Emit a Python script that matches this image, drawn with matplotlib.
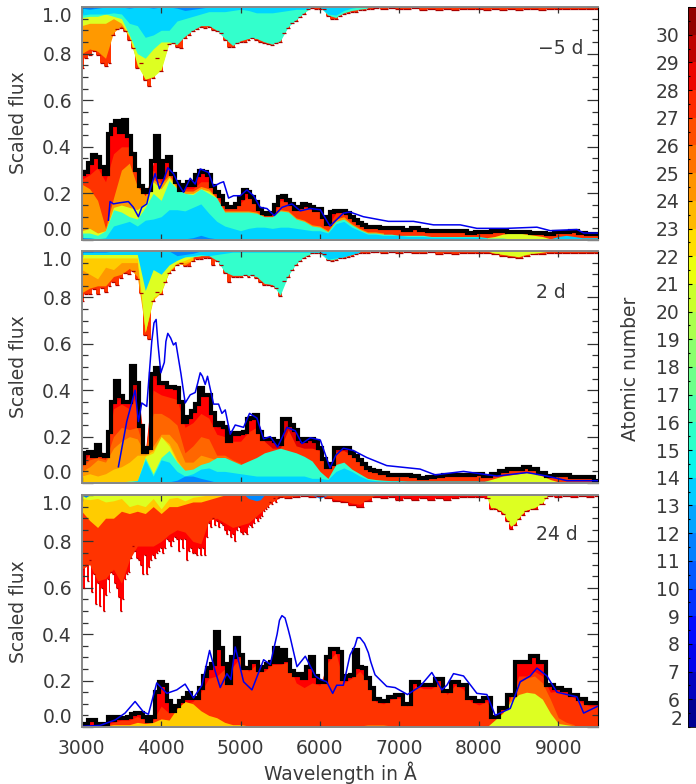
import numpy as np
import matplotlib
matplotlib.use('Agg')
import matplotlib.pyplot as plt
from matplotlib.colors import ListedColormap
from matplotlib.ticker import MultipleLocator

plt.rcParams['font.family'] = ['DejaVu Sans']

# wavelength grids
w_flux = np.concatenate([np.arange(3000, 6750, 50), np.arange(6800, 9600, 100)])
w100 = np.arange(3000, 9600, 100)
w_edge3 = np.concatenate([np.arange(3000, 5525, 25), np.arange(5600, 8200, 100),
                          np.arange(8150, 8650, 50), [8700, 8800, 8850, 8900],
                          np.arange(9000, 9600, 100)])

# colours of the element groups
c_dark = '#dd0000'
c_red = '#ff0000'
c_redor = '#ff3300'
c_or1 = '#ff6600'
c_or2 = '#ff9900'
c_yel = '#ffcc00'
c_lime = '#ddff22'
c_teal = '#33ffcc'
c_cyan = '#00d4ff'
c_blue = '#0088ff'
c_text = '#3a3a3a'

# ---------- panel 1, -5 d
p1_flux = [.285, .29, .33, .365, .355, .315, .285, .455, .495, .51, .465, .515, .445, .37, .30, .23, .205, .215, .34, .445,
           .27, .34, .355, .285, .25, .215, .235, .25, .235, .28, .295, .29, .28, .23, .205, .19, .155, .14, .14, .155,
           .18, .215, .205, .185, .165, .135, .115, .11, .115, .15, .185, .19, .17, .155, .135, .14, .155, .15, .14, .13,
           .135, .10, .07, .12, .125, .125, .125, .115, .10, .085, .075, .065, .055, .055, .055,
           .05, .05, .05, .045, .05, .045, .04, .04, .04, .04, .04, .03, .035, .035, .04, .04, .035, .035, .035, .03,
           .03, .025, .035, .035, .04, .03, .025, .025]
p1_blue_w = [3336, 3357, 3399, 3483, 3588, 3651, 3714, 3756, 3819, 3861, 3924, 3979, 4029, 4084, 4155, 4218, 4282, 4366,
             4429, 4492, 4597, 4660, 4744, 4786, 4849, 4912, 4996, 5080, 5164, 5248, 5332, 5424, 5521, 5647, 5752, 5878,
             6004, 6126, 6294, 6378, 6546, 6861, 7176, 7429, 7765, 7975, 8353, 8731, 8899, 9235, 9319, 9500]
p1_blue = [.085, .165, .155, .16, .165, .14, .10, .14, .155, .215, .285, .22, .255, .31, .285, .24, .205, .265,
           .24, .305, .29, .23, .245, .25, .18, .19, .19, .215, .19, .14, .135, .105, .14, .155, .125, .135,
           .13, .06, .115, .12, .10, .08, .08, .065, .065, .05, .05, .055, .04, .045, .03, .03]
p1_redor = [.26, .28, .31, .25, .37, .40, .40, .27, .19, .30, .25, .31, .24, .22, .22, .25, .25, .19, .14, .135, .16, .19,
            .15, .105, .105, .17, .16, .125, .14, .13, .125, .06, .115, .12, .09, .065, .05, .05, .045, .045, .045, .04,
            .045, .04, .035, .035, .035, .035, .035, .025, .03, .03, .035, .035, .03, .03, .03, .025, .025, .02, .03,
            .03, .035, .025, .02, .02]
p1_orange = [.24, .22, .17, .05, .18, .30, .33, .23, .19, .26, .24, .28, .23, .21, .21, .23, .22, .18, .125, .125, .125,
             .125, .12, .10, .10, .13, .125, .095, .085, .065, .06, .04, .09, .10, .07, .05, .035, .035, .03]
p1_lime = [.04, .05, .03, .04, .14, .15, .14, .13, .16, .25, .22, .27, .22, .20, .20, .22, .21, .18]
p1_lime2_w = [8100, 8200, 8300, 8400, 8500, 8600, 8700, 8800, 8900]
p1_lime2 = [.01, .015, .025, .03, .03, .025, .02, .015, .005]
p1_teal = [.03, .03, .02, .04, .13, .12, .10, .09, .14, .20, .17, .255, .22, .20, .195, .22, .20, .18, .12, .12, .12, .12,
           .115, .10, .10, .125, .12, .09, .08, .06, .055, .035, .08, .09, .065, .045, .03, .03, .025, .025, .02, .02,
           .02, .02, .015, .015, .015, .015, .015, .015, .015, .01]
p1_cyan = [.01, .01, .005, .01, .06, .07, .08, .06, .085, .09, .10, .13, .13, .125, .14, .155, .115, .08, .06, .05, .04,
           .05, .055, .055, .05, .055, .055, .05, .045, .04, .04, .03, .07, .08, .055, .04, .025, .025, .02, .02, .02,
           .015, .015, .015, .012, .012, .012, .012, .012, .012, .012, .008, .008, .008, .005, .005, .005, .005, .005,
           .005, .015, .02, .015, .01, .01, .01]
p1_blue_fill = [.01, .008, .005, .005, .005, .005, .005, .005, .005, .005, .005, .005, .005, .005, .01, .02, .01, .005]
p1_edge = [.74, .78, .795, .81, .795, .76, .745, .76, .88, .905, .91, .895, .86, .825, .74, .76, .685, .66, .695, .78,
           .725, .815, .84, .845, .83, .825, .865, .88, .895, .905, .915, .91, .915, .90, .895, .89, .86, .83, .83, .845,
           .85, .85, .86, .865, .86, .85, .845, .84, .835, .845, .85, .89, .91, .93, .94, .955, .97, .99, .995,
           .99, .99, .99, .96, .95, .95, .96, .97, .975, .98, .98, .985, .985, .99, .99, .995,
           .99, .995, .99, .99, .995, .985, .99, .985, .99, .985, .99, .99, .99, .985, .99, .985, .99, .985, .99, .99,
           .985, .99, .99, .99, .99, .99, .99, .99]
p1a_orange = [.80, .82, .81, .78, .89, .92, .87, .76, .69, .71, .74, .85, .84]
p1a_lime = [.92, .93, .93, .93, .95, .93, .875, .75, .69, .70, .73, .845, .84]
p1a_teal = [.955, .96, .96, .97, .96, .95, .88, .80, .78, .82, .85, .85, .84, .875, .90, .92, .92, .90, .865, .835, .855,
            .865, .865, .85, .84, .855, .915, .945, .975, 1.0, 1.0, .965, .955, .975, .985, .99, .995]
p1a_cyan = [.965, .97, .97, .97, .975, .97, .93, .92, .87, .88, .90, .90, .94, .95, .96, .97, .98, .98, .98, .985, .99,
            .985, .975, .975, .975, .98, .985, .99, .99, 1.0, 1.0, .97, .965, .985, .995, 1.0]
p1a_blue = [.995, .99, .995, 1.0, 1.0, 1.0, .995, 1.0, 1.0, .995, 1.0, 1.0, .995, .985, .99, .995, 1.0]

# ---------- panel 2, 2 d
p2_flux = [.085, .13, .135, .115, .165, .12, .115, .22, .35, .44, .375, .35, .35, .505, .43, .245, .135, .15, .47, .495,
           .43, .43, .415, .415, .41, .35, .265, .285, .31, .34, .41, .38, .38, .30, .25, .26, .24, .18, .215, .21,
           .215, .22, .275, .28, .295, .22, .19, .19, .19, .18, .17, .275, .275, .25, .23, .19, .18, .19, .19, .18, .15,
           .105, .07, .08, .15, .15, .15, .15, .13, .115, .10, .08, .065, .055, .05,
           .045, .035, .035, .035, .03, .02, .025, .03, .035, .035, .035, .035, .04, .03, .04, .05, .06, .06, .07, .06,
           .045, .03, .035, .035, .025, .025, .025, .01]
p2_blue_w = [3462, 3567, 3672, 3714, 3756, 3819, 3882, 3910, 3937, 3960, 3996, 4040, 4060, 4084, 4120, 4155, 4185, 4250, 4303,
             4366, 4429, 4460, 4492, 4520, 4555, 4584, 4660, 4723, 4765, 4807, 4870, 4933, 5038, 5113, 5206, 5290, 5374,
             5466, 5584, 5689, 5773, 5878, 6004, 6126, 6200, 6294, 6420, 6588, 6840, 7260, 7450, 7807, 8227, 8605, 8857,
             9109, 9500]
p2_blue = [.07, .265, .40, .265, .345, .33, .61, .69, .705, .60, .475, .52, .61, .645, .625, .595, .605, .47, .345,
           .38, .39, .43, .475, .46, .425, .46, .34, .34, .30, .315, .21, .25, .24, .30, .28, .19, .20,
           .155, .24, .225, .17, .195, .185, .065, .12, .15, .14, .11, .075, .06, .035, .05, .03, .045, .03,
           .01, .01]
p2_red = [.08, .13, .16, .11, .34, .37, .34, .42, .13, .46, .42, .41, .40, .26, .30, .40, .37, .24, .23, .205, .205, .265,
          .285, .185]
p2_redor = [.08, .125, .15, .105, .32, .34, .32, .38, .13, .40, .38, .37, .36, .24, .26, .30, .28, .21, .20, .18, .18, .22,
            .24, .18, .15, .15, .23, .16, .15, .15, .14, .065, .135, .14, .12, .09, .06, .045, .04, .03, .03, .03, .025,
            .02, .02, .025, .03, .03, .03, .03, .035, .025, .035, .045, .055, .055, .065, .055, .04, .025, .03, .03, .02,
            .02, .02, .005]
p2_or1 = [.07, .10, .11, .10, .20, .24, .23, .24, .13, .30, .30, .28, .25, .13, .16, .20, .19, .12, .12, .10, .085]
p2_or2 = [.05, .07, .10, .09, .15, .18, .20, .19, .125, .16, .21, .21, .17, .09, .09, .12, .11, .10, .11, .09]
p2_yel = [.03, .04, .03, .04, .06, .07, .09, .12, .12, .14, .20, .17, .10, .05]
p2_lime = [.005, .005, .005, .005, .005, .005, .008, .01, .115, .13, .20, .16, .09, .05]
p2_lime2_w = [8000, 8100, 8200, 8300, 8400, 8500, 8600, 8700, 8800, 8900, 9000]
p2_lime2 = [.0, .01, .02, .03, .035, .04, .045, .04, .03, .015, .005]
p2_teal = [.005, .005, .005, .005, .005, .005, .008, .01, .11, .04, .11, .14, .09, .055, .06, .08, .09, .11, .11, .095,
           .08, .095, .11, .13, .14, .15, .14, .13, .115, .095, .05, .02, .08, .09, .06, .04, .02, .015, .012, .01, .01,
           .008, .008, .008, .008, .008, .008, .008, .008, .008, .008]
p2_cyan = [.005, .005, .005, .005, .005, .005, .005, .01, .10, .03, .10, .09, .05, .03, .04, .06, .065, .05, .05, .045,
           .04, .035, .03, .03, .03, .03, .03, .03, .03, .02, .02, .015, .05, .065, .05, .03, .015, .01, .008, .008, .008,
           .008, .008, .008, .008, .008, .008, .008, .008, .008, .008, .008, .006, .006, .006, .006, .006, .006, .006,
           .006, .006, .006, .006, .006, .005, .005]
p2_blue_fill = [.003, .003, .003, .003, .003, .003, .003, .003, .003, .003, .003, .005, .012, .03, .03, .02, .012, .003]
p2_edge = [.785, .815, .815, .835, .815, .84, .825, .85, .865, .855, .885, .905, .90, .915, .88, .82, .64, .62, .785, .825,
           .815, .865, .905, .92, .94, .95, .935, .935, .955, .965, .965, .97, .97, .94, .955, .94, .905, .865, .89, .89,
           .89, .895, .89, .895, .885, .865, .855, .855, .85, .84, .805, .87, .89, .92, .94, .955, .97, .98, .99, .99, .99,
           .985, .96, .955, .96, .97, .97, .975, .98, .985, .99, .99, .99, .995, .995,
           .99, .995, .99, .995, .99, .99, .995, .985, .99, .985, .99, .99, .99, .99, .985, .98, .975, .97, .98, .985,
           .985, .99, .99, .99, .99, .99, .99, .99]
p2a_orange = [.82, .84, .85, .85, .89, .90, .925, .89, .66, .80, .83, .91, .945, .94, .96]
p2a_yel = [.92, .90, .88, .93, .92, .95, .95, .95, .65, .79, .82, .91, .945, .95, .96]
p2a_lime = [.97, .97, .97, .97, .97, .97, .97, .97, .65, .80, .825, .915, .95, .96, .975, .98]
p2a_lime2_w = [8100, 8200, 8300, 8400, 8500, 8600, 8700, 8800, 8900]
p2a_lime2 = [1.0, .99, .985, .98, .975, .985, .99, .995, 1.0]
p2a_teal = [.99, .99, .99, .99, .99, .99, .99, .99, .97, .97, .97, .97, .97, .975, .975, .98, .98, .96, .91, .895, .895,
            .895, .89, .86, .855, .81, .895, .945, .975, .99, .99, .96, .965, .975, .985, .995]
p2a_cyan = [.985, .985, .985, .985, .985, .985, .985, .985, .83, .92, .90, .94, .96, .975, .98, .985, .98, .985, .99, .995,
            .995, .995, .995, .995, .995, .995, .995, .995, .995, .995, .995, .965, .97, .975, .985, .995]
p2a_blue = [.995, .995, .995, .995, 1.0, 1.0, 1.0, 1.0, 1.0, 1.0, 1.0, 1.0, .98, .985, .99, 1.0]

# ---------- panel 3, 24 d
p3_flux = [.01, .015, .03, .03, .015, .005, .015, .045, .03, .045, .04, .04, .045, .055, .06, .06, .045, .025, .045, .15,
           .195, .18, .11, .07, .09, .11, .125, .145, .125, .125, .17, .22, .255, .27, .41, .34, .27, .19, .30, .385,
           .31, .255, .255, .28, .28, .245, .26, .27, .28, .34, .28, .33, .29, .24, .225, .23, .21, .26, .30, .22, .195,
           .195, .30, .335, .335, .325, .205, .22, .225, .33, .26, .255, .21, .17, .12,
           .11, .13, .14, .10, .195, .18, .18, .205, .155, .195, .18, .125, .11, .125, .045, .08, .14, .28, .28, .305,
           .28, .18, .17, .16, .14, .12, .105, .105]
p3_blue_w = [3000, 3231, 3420, 3546, 3672, 3777, 3840, 3945, 4071, 4197, 4302, 4407, 4513, 4610, 4681, 4744, 4828, 4878,
             4933, 5038, 5143, 5290, 5374, 5460, 5490, 5521, 5560, 5600, 5626, 5710, 5815, 5941, 6004, 6084, 6160, 6210,
             6294, 6378, 6440, 6470, 6504, 6560, 6609, 6640, 6693, 6840, 6945, 7101, 7260, 7408, 7534, 7597, 7681, 7807,
             7975, 8101, 8206, 8395, 8521, 8647, 8731, 8857, 8983, 9235, 9319, 9500]
p3_blue = [.003, .007, .03, .06, .11, .065, .055, .19, .145, .16, .185, .125, .18, .33, .24, .17, .23, .205,
           .345, .195, .16, .29, .27, .40, .46, .48, .47, .42, .385, .26, .305, .22, .205, .195, .145, .18,
           .18, .31, .35, .385, .385, .36, .32, .28, .225, .175, .17, .14, .175, .235, .16, .18, .23, .22,
           .145, .14, .05, .08, .195, .22, .254, .22, .15, .13, .06, .09]
p3_redor = [.005, .01, .005, .01, .02, .03, .03, .045, .03, .03, .09, .06, .07, .10, .11, .15, .21, .22, .25, .26, .30, .24,
            .27, .24, .27, .27, .28, .19, .17, .19, .18, .28, .32, .19, .21, .24, .20, .11, .10, .12, .125, .09, .18, .165,
            .165, .19, .14, .18, .165, .11, .095, .11, .035, .07, .12, .22, .22, .24, .22, .15, .155, .145, .125, .105,
            .09, .09]
p3_or1_w = [8300, 8400, 8500, 8600, 8700, 8800, 8900, 9000, 9100, 9200]
p3_or1 = [.04, .13, .19, .21, .22, .19, .12, .04, .02, .01]
p3_yel = [.0, .005, .005, .005, .01, .01, .01, .02, .015, .02, .035, .03, .08, .11, .10, .07, .05, .04, .02, .01, .01, .005,
          .005, .005, .005, .005, .005, .005, .005, .005, .005, .005, .005, .005, .005, .005, .008, .008, .008, .005]
p3_lime_w = [8100, 8200, 8300, 8400, 8500, 8600, 8700, 8800, 8900, 9000, 9100, 9200, 9300, 9400, 9500]
p3_lime = [.0, .03, .06, .11, .14, .15, .145, .12, .06, .015, .01, .005, .003, .002, .0]
p3_cyan = [.002, .003, .002, .001, .002, .002, .002, .003, .006, .006, .003, .002, .002, .002, .002, .002, .002, .002, .002,
           .003, .005, .005, .003, .003, .003, .003, .003, .003, .003, .003, .002, .002, .002, .002, .002, .002, .002,
           .002, .002, .002, .002, .002, .002, .002, .002, .002, .002, .002, .002, .002, .002, .002, .002, .002, .002,
           .002, .002, .002, .002, .002, .002, .002, .002, .002, .002, .002]
p3_edge = [.68, .60, .70, .63, .72, .58, .66, .53, .62, .52, .60, .50, .57, .64, .58, .67, .66, .62, .60, .56,
           .50, .55, .64, .66, .67, .73, .78, .76, .73, .72, .70, .66, .74, .66, .69, .72, .74, .73, .75, .76,
           .77, .75, .77, .81, .80, .78, .80, .82, .81, .76, .81, .77, .81, .72, .76, .77, .75, .75, .74, .77,
           .74, .77, .74, .82, .88, .86, .90, .87, .89, .86, .88, .87, .85, .83, .85, .82, .83, .80, .85, .86,
           .84, .83, .84, .83, .86, .87, .86, .88, .90, .89, .90, .91, .93, .94, .95, .97, .96, .985, .97, .985, .99,
           .985, .99, .995, .99, .995, .985, .975, .97, .955, .95, .975, .99, .985, .99, .98, .985, .98, .985, .98, .985,
           .98, .985, .99, .99, .99, .985,
           .94, .94, .93, .92, .89, .855, .87, .895, .915, .93,
           .94, .96, .985, .995,
           .99, .995, .99, .995, .99, .995]
p3a_redor = [.68, .70, .63, .64, .68, .62, .72, .78, .78, .78, .80, .83, .85, .84, .80, .79, .89, .90, .88, .86, .87, .88,
             .91, .94, .97, .99, .99, .995, 1.0, .995, .995, .99, .98, .975, .965, .96, .98, 1.0]
p3a_yel = [.93, .89, .86, .90, .90, .93, .92, .93, .92, .95, .92, .95, .95, .96, .97, .97, .98, .99, 1.0]
p3a_lime = [.985, .98, .985, .97, .975, .985, .95, .96, .95, .985, .94, .985, .99, .975, .99, .995, 1.0]
p3a_lime2_w = [8100, 8150, 8200, 8250, 8300, 8350, 8400, 8450, 8500, 8550, 8600, 8700, 8800, 8850, 8900]
p3a_lime2 = [.99, .945, .945, .935, .925, .895, .865, .875, .90, .92, .935, .945, .965, .99, 1.0]
p3a_blue_w = [3000, 3050, 3100, 5050, 5100, 5150, 5200, 5250, 5300, 5900, 6000, 6100]
p3a_blue = [1.0, .99, 1.0, 1.0, .985, .98, .975, .98, 1.0, 1.0, .985, 1.0]

# colour bar
bar_labels = ['6', '7', '8', '9', '10', '11', '12', '13', '14', '15', '16', '17', '18', '19', '20', '21', '22', '23', '24',
              '25', '26', '27', '28', '29', '30']
bar_first = '2'
panel_labels = ['\u22125 d', '2 d', '24 d']


def up(ax, x, top, color):
    ax.fill_between(x[:len(top)], 0, top, color=color, lw=0)


def down(ax, x, bot, color):
    ax.fill_between(x[:len(bot)], bot, 1, color=color, lw=0)


def finish(ax, wave, flux, edge, blue_w, blue):
    half = np.gradient(wave) / 2
    ax.hlines(edge, wave - half, wave + half, color='#aa0000', lw=0.9)
    ax.step(w_flux, flux, where='mid', color='k', lw=3.0, solid_joinstyle='miter')
    ax.plot(blue_w, blue, color='#0000ee', lw=1.1)


fig = plt.figure(figsize=(6.96, 7.84), dpi=100)
tops = [7, 251, 495]
bots = [240, 483, 727]
axs = []
for top, bot in zip(tops, bots):
    a = fig.add_axes([81.7 / 696, 1 - bot / 784, (598 - 81.7) / 696, (bot - top) / 784])
    a.set_xlim(3000, 9500)
    a.set_ylim(0, 1)
    a.xaxis.set_major_locator(MultipleLocator(1000))
    a.yaxis.set_minor_locator(MultipleLocator(0.05))
    a.tick_params(which='major', axis='y', direction='in', left=True, right=True, length=8, width=0.9,
                  color='#333333', labelcolor=c_text, labelsize=13.5, pad=7)
    a.tick_params(which='minor', axis='y', direction='in', left=True, right=True, length=4, width=0.9, color='#333333')
    a.tick_params(which='major', axis='x', direction='in', top=True, bottom=True, length=4, width=0.9,
                  color='#333333', labelcolor=c_text, labelsize=13.5, pad=9)
    a.set_yticks([0, .2, .4, .6, .8, 1])
    a.set_yticklabels(['0.0', '0.2', '0.4', '0.6', '0.8', '1.0'])
    ylab = a.get_yticklabels()
    ylab[0].set_va('bottom')
    ylab[-1].set_va('top')
    for s in ['left', 'top', 'bottom']:
        a.spines[s].set_color('#888888')
        a.spines[s].set_linewidth(1.4)
    a.spines['right'].set_linewidth(0.8)
    axs.append(a)

# panel 1
ax = axs[0]
up(ax, w_flux, p1_flux, c_red)
up(ax, w100, p1_redor, c_redor)
up(ax, w100, p1_orange, c_or2)
up(ax, w100, p1_lime, c_lime)
up(ax, np.array(p1_lime2_w), p1_lime2, c_lime)
up(ax, w100, p1_teal, c_teal)
up(ax, w100, p1_cyan, c_cyan)
up(ax, w100, p1_blue_fill, c_blue)
ax.fill_between(w_flux, p1_edge, 1, color=c_redor, lw=0, step='mid')
down(ax, w100, p1a_orange, c_or2)
down(ax, w100, p1a_lime, c_lime)
down(ax, w100, p1a_teal, c_teal)
down(ax, w100, p1a_cyan, c_cyan)
down(ax, w100, p1a_blue, c_blue)
finish(ax, w_flux, p1_flux, p1_edge, p1_blue_w, p1_blue)

# panel 2
ax = axs[1]
ax.fill_between(w_flux, 0, p2_flux, color=c_dark, lw=0, step='mid')
up(ax, w100, p2_red, c_red)
up(ax, w100, p2_redor, c_redor)
up(ax, w100, p2_or1, c_or1)
up(ax, w100, p2_or2, c_or2)
up(ax, w100, p2_yel, c_yel)
up(ax, w100, p2_lime, c_lime)
up(ax, np.array(p2_lime2_w), p2_lime2, c_lime)
up(ax, w100, p2_teal, c_teal)
up(ax, w100, p2_cyan, c_cyan)
up(ax, w100, p2_blue_fill, c_blue)
ax.fill_between(w_flux, p2_edge, 1, color=c_redor, lw=0, step='mid')
down(ax, w100, p2a_orange, c_or2)
down(ax, w100, p2a_yel, c_yel)
down(ax, w100, p2a_lime, c_lime)
down(ax, np.array(p2a_lime2_w), p2a_lime2, c_lime)
down(ax, w100, p2a_teal, c_teal)
down(ax, w100, p2a_cyan, c_cyan)
down(ax, w100, p2a_blue, c_blue)
finish(ax, w_flux, p2_flux, p2_edge, p2_blue_w, p2_blue)

# panel 3
ax = axs[2]
ax.fill_between(w_flux, 0, p3_flux, color=c_red, lw=0, step='mid')
up(ax, w100, p3_redor, c_redor)
up(ax, np.array(p3_or1_w), p3_or1, c_or1)
up(ax, w100, p3_yel, c_yel)
up(ax, np.array(p3_lime_w), p3_lime, c_lime)
up(ax, w100, p3_cyan, c_cyan)
ax.fill_between(w_edge3, p3_edge, 1, color=c_red, lw=0, step='mid')
down(ax, w100, p3a_redor, c_redor)
down(ax, w100, p3a_yel, c_yel)
down(ax, w100, p3a_lime, c_lime)
down(ax, np.array(p3a_lime2_w), p3a_lime2, c_lime)
down(ax, np.array(p3a_blue_w), p3a_blue, c_blue)
finish(ax, w_edge3, p3_flux, p3_edge, p3_blue_w, p3_blue)

for a, txt, lx, ly in zip(axs, panel_labels, [8741, 8716, 8716], [.824, .823, .828]):
    a.text(lx, ly, txt, fontsize=13.5, color=c_text, va='center', ha='left')

axs[0].tick_params(axis='x', labelbottom=False)
axs[1].tick_params(axis='x', labelbottom=False)
axs[2].set_xticks([3000, 4000, 5000, 6000, 7000, 8000, 9000])

for yc in [123, 367, 612]:
    fig.text(19 / 696, 1 - yc / 784, 'Scaled flux', rotation=90, fontsize=13.5, color=c_text, ha='center', va='center')
fig.text(340 / 696, 1 - 773 / 784, 'Wavelength in \u00c5', fontsize=13.5, color=c_text, ha='center', va='center')
fig.text(631 / 696, 1 - 369 / 784, 'Atomic number', rotation=90, fontsize=13.5, color=c_text, ha='center', va='center')

# colour bar on the right edge
cax = fig.add_axes([688 / 696, 1 - 727 / 784, 8 / 696, 720 / 784])
n_bins = len(bar_labels) + 1
bar_cmap = ListedColormap(plt.get_cmap('jet')((np.arange(n_bins) + 0.5) / n_bins))
cax.pcolormesh([0, 1], np.arange(n_bins + 1), np.arange(n_bins).reshape(-1, 1), cmap=bar_cmap)
cax.set_xticks([])
cax.yaxis.set_minor_locator(MultipleLocator(0.5))
cax.set_ylim(0, n_bins)
cax.set_yticks(np.arange(1, n_bins))
cax.set_yticklabels(bar_labels)
cax.tick_params(which='major', axis='y', direction='in', length=3, width=0.8, labelsize=13.5, labelcolor=c_text, pad=6)
cax.tick_params(which='minor', axis='y', direction='in', length=1.5, width=0.8)
cax.text(-0.75, 0.26, bar_first, transform=cax.get_yaxis_transform(), fontsize=13.5, color=c_text, ha='right', va='center')
for s in cax.spines.values():
    s.set_linewidth(0.6)

fig.savefig('out.png', dpi=100)
